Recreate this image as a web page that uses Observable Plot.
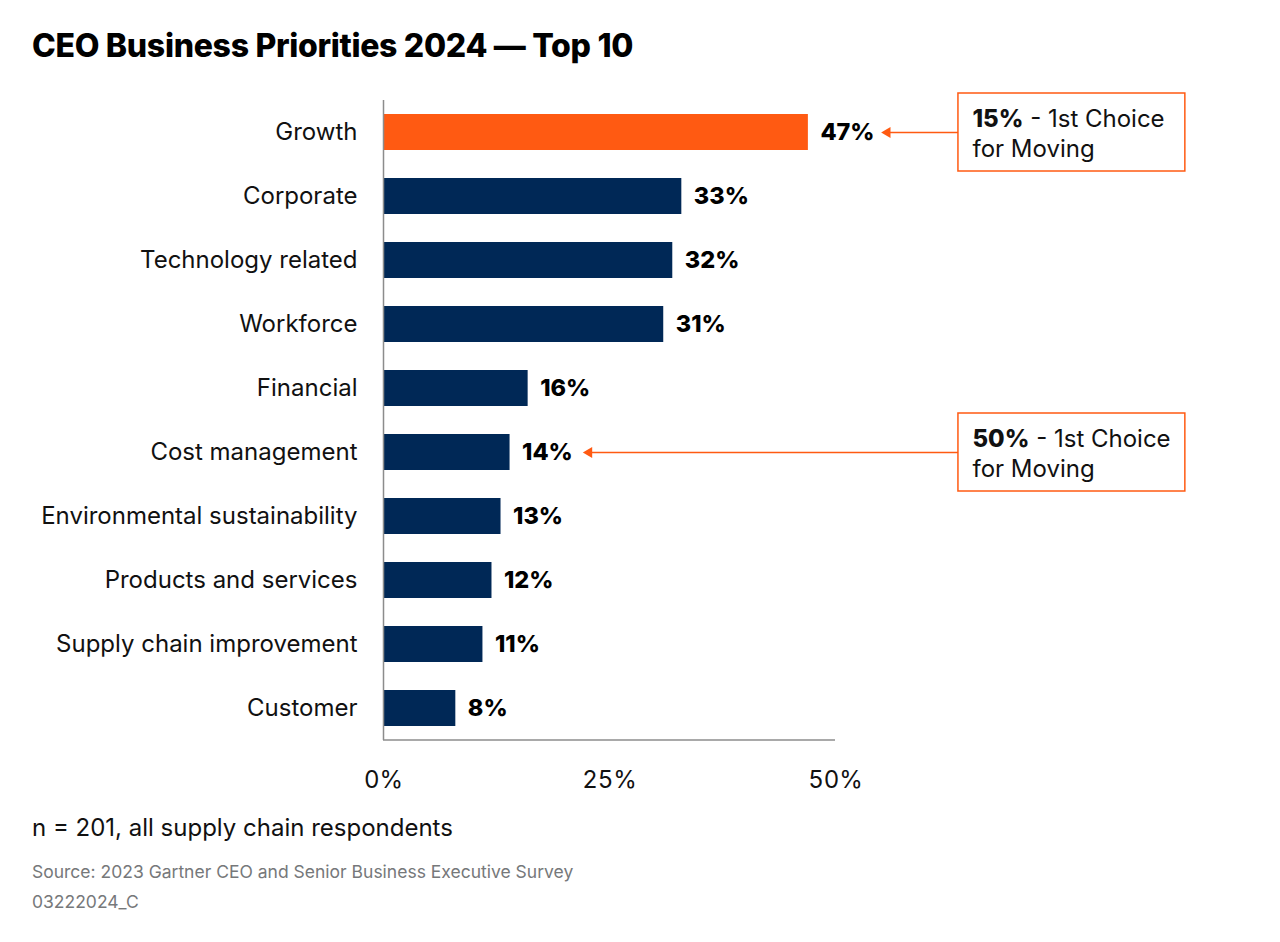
<!DOCTYPE html>
<html>
<head>
<meta charset="utf-8">
<script src="https://cdn.jsdelivr.net/npm/d3@7"></script>
<script src="https://cdn.jsdelivr.net/npm/@observablehq/plot@0.6"></script>
<style>
  html, body { margin: 0; padding: 0; background: #fff; }
  body { width: 1280px; height: 942px; position: relative; font-family: Inter, "Noto Sans", sans-serif; color: #111; }
  .abs { position: absolute; left: 32px; white-space: nowrap; }
  #title { top: 30px; font-size: 32px; line-height: 32px; font-weight: 800; letter-spacing: -0.3px; color: #000; }
  #chart { position: absolute; left: 0; top: 80px; }
  #note { top: 816px; font-size: 24px; line-height: 24px; color: #111; }
  #source { top: 863px; font-size: 17.5px; line-height: 17.5px; color: #76787a; }
  #code { top: 893px; font-size: 17.5px; line-height: 17.5px; color: #76787a; }
</style>
</head>
<body>
<div id="title" class="abs">CEO Business Priorities 2024 — Top 10</div>
<div id="chart"></div>
<div id="note" class="abs">n = 201, all supply chain respondents</div>
<div id="source" class="abs">Source: 2023 Gartner CEO and Senior Business Executive Survey</div>
<div id="code" class="abs">03222024_C</div>
<script>
// Share of CEOs naming each priority (%)
const categories = [
  "Growth", "Corporate", "Technology related", "Workforce", "Financial",
  "Cost management", "Environmental sustainability", "Products and services",
  "Supply chain improvement", "Customer"
];
const values = [47, 33, 32, 31, 16, 14, 13, 12, 11, 8];
const highlighted = ["Growth"];
const xTicks = [0, 25, 50];

// Callouts: share choosing each priority as first choice for moving
const calloutCategories = ["Growth", "Cost management"];
const calloutShares = ["15%", "50%"];
const calloutRest = [" - 1st Choice", " - 1st Choice"];
const calloutLine2 = ["for Moving", "for Moving"];

const rows = categories.map((c, i) => ({category: c, value: values[i], hi: highlighted.includes(c)}));
const callouts = calloutCategories.map((c, i) => ({
  category: c,
  value: values[categories.indexOf(c)],
  text: calloutShares[i] + calloutRest[i] + "\n" + calloutLine2[i]
}));

const ORANGE = "#ff5a12";
const NAVY = "#002856";
const AXIS = "#8c8c8c";
const boxLeft = 63.6, boxRight = 88.7, boxTextX = 65.15;

const chart = Plot.plot({
  width: 1280,
  height: 730,
  marginTop: 20,
  marginBottom: 70,
  marginLeft: 383,
  marginRight: 445,
  style: {fontFamily: "Inter, 'Noto Sans', sans-serif", fontSize: "24px", color: "#111", overflow: "visible"},
  x: {domain: [0, 50], ticks: xTicks, tickFormat: d => d + "%", tickSize: 0, tickPadding: 30, label: null},
  y: {domain: categories, paddingInner: 0.4375, paddingOuter: 0.21875, tickSize: 0, tickPadding: 26, label: null},
  marks: [
    Plot.barX(rows, {y: "category", x: "value", fill: d => d.hi ? ORANGE : NAVY}),
    Plot.text(rows, {y: "category", x: "value", text: d => d.value + "%", dx: 12, textAnchor: "start", fontWeight: 800, fill: "#000", fontSize: 23.5}),
    Plot.ruleX([0], {stroke: AXIS, strokeWidth: 1.5}),
    // callout arrows and boxes
    Plot.arrow(callouts, {y: "category", x1: () => boxLeft, x2: "value", insetEnd: 80, stroke: ORANGE, strokeWidth: 1.5, headLength: 0}),
    Plot.dot(callouts, {y: "category", x: "value", dx: 79, symbol: "triangle", rotate: -90, r: 4, fill: ORANGE, stroke: null}),
    Plot.rect(callouts, {y: "category", x1: () => boxLeft, x2: () => boxRight, insetTop: -21, insetBottom: -21, fill: "white", stroke: ORANGE, strokeWidth: 1.5}),
    Plot.text(callouts, {y: "category", x: () => boxTextX, text: "text", textAnchor: "start", lineHeight: 1.25, fontSize: 24, fill: "#111", className: "callout"})
  ]
});

document.getElementById("chart").appendChild(chart);

// bottom axis line, spanning the x domain at the foot of the frame
const sx = chart.scale("x");
const svg = d3.select(chart);
svg.append("line")
  .attr("x1", sx.apply(0)).attr("x2", sx.apply(50))
  .attr("y1", 730 - 70).attr("y2", 730 - 70)
  .attr("stroke", AXIS).attr("stroke-width", 1.5);

// bold share figure inside each callout
svg.selectAll(".callout text").each(function() {
  const first = this.querySelector("tspan");
  if (!first) return;
  const full = first.textContent;
  const k = full.indexOf(" - ");
  first.textContent = "";
  d3.select(first).append("tspan").attr("font-weight", 800).text(full.slice(0, k));
  d3.select(first).append("tspan").text(full.slice(k));
});
</script>
</body>
</html>
